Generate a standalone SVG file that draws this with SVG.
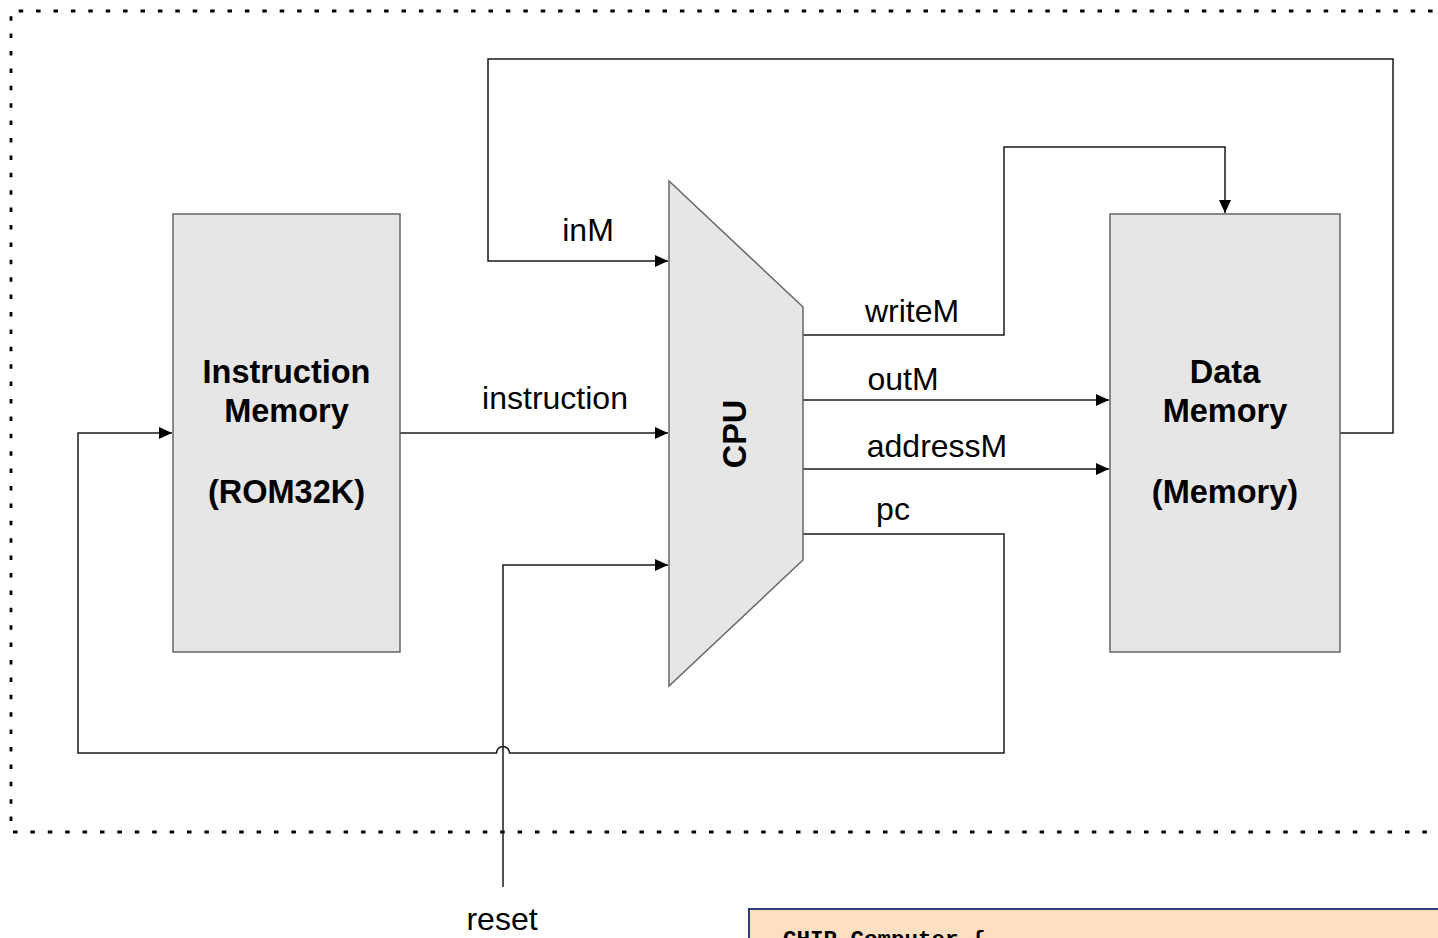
<svg xmlns="http://www.w3.org/2000/svg" width="1438" height="938" viewBox="0 0 1438 938">
<defs>
<style>
.box{fill:#e6e6e6;stroke:#666;stroke-width:1.5}
.wire{fill:none;stroke:#1a1a1a;stroke-width:1.5}
.lbl{font-family:"Liberation Sans",Arial,sans-serif;font-size:32px;fill:#000;text-anchor:middle}
.bold{font-family:"Liberation Sans",Arial,sans-serif;font-size:32.5px;font-weight:bold;fill:#000;text-anchor:middle}
</style>
<marker id="arr" markerUnits="userSpaceOnUse" markerWidth="14" markerHeight="12" refX="13" refY="6" orient="auto">
<path d="M0,0 L13,6 L0,12 Z" fill="#000"/>
</marker>
</defs>
<rect width="1438" height="938" fill="#fff"/>
<path d="M1450,11 H11 V832 H1450" fill="none" stroke="#000" stroke-width="2.8" stroke-dasharray="4.5 12.9"/>
<g id="connectors">
<path class="wire" d="M1340,433 H1393 V59 H488 V261 H668" marker-end="url(#arr)"/>
<path class="wire" d="M803,335 H1004 V147 H1225 V213" marker-end="url(#arr)"/>
<path class="wire" d="M803,400 H1109" marker-end="url(#arr)"/>
<path class="wire" d="M803,469 H1109" marker-end="url(#arr)"/>
<path class="wire" d="M803,534 H1004 V753 H509.5 A6.5,6.5 0 0 0 496.5,753 H78 V433 H172" marker-end="url(#arr)"/>
<path class="wire" d="M400,433 H668" marker-end="url(#arr)"/>
<path class="wire" d="M503,887 V565 H668" marker-end="url(#arr)"/>
<text class="lbl" x="588" y="241">inM</text>
<text class="lbl" x="555" y="409">instruction</text>
<text class="lbl" x="912" y="322">writeM</text>
<text class="lbl" x="903" y="390">outM</text>
<text class="lbl" x="937" y="457">addressM</text>
<text class="lbl" x="893" y="520">pc</text>
<text class="lbl" x="502" y="930">reset</text>
</g>
<g id="instruction-memory">
<rect class="box" x="173" y="214" width="227" height="438"/>
<text class="bold" x="286.5" y="383">Instruction</text>
<text class="bold" x="286.5" y="422">Memory</text>
<text class="bold" x="286.5" y="503">(ROM32K)</text>
</g>
<g id="cpu">
<polygon class="box" points="669,181 803,307 803,560 669,686"/>
<text class="bold" transform="translate(746,434) rotate(-90)">CPU</text>
</g>
<g id="data-memory">
<rect class="box" x="1110" y="214" width="230" height="438"/>
<text class="bold" x="1225" y="383">Data</text>
<text class="bold" x="1225" y="422">Memory</text>
<text class="bold" x="1225" y="503">(Memory)</text>
</g>
<g id="code-box">
<rect x="749" y="909" width="700" height="100" fill="#fddfc2" stroke="#2f3e7a" stroke-width="2"/>
<text x="783" y="946" font-family="'Liberation Mono','Courier New',monospace" font-size="22.5" font-weight="bold" fill="#000">CHIP Computer {</text>
</g>
</svg>
